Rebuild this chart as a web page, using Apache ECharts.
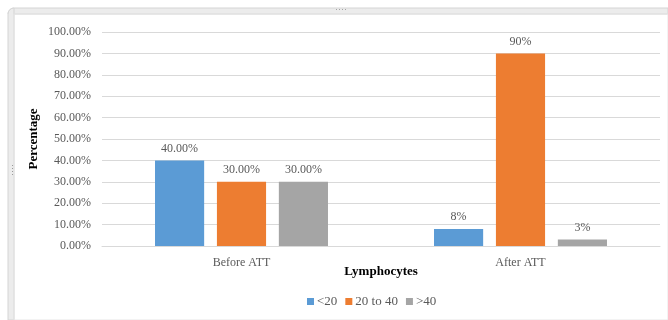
<!DOCTYPE html>
<html>
<head>
<meta charset="utf-8">
<script src="https://cdn.jsdelivr.net/npm/echarts@6/dist/echarts.min.js"></script>
<style>
  html, body { margin: 0; padding: 0; background: #ffffff; }
  #chart { width: 668px; height: 320px; }
</style>
</head>
<body>
<div id="chart"></div>
<script>
// Lymphocyte count groups, before and after ATT
const categories = ['Before ATT', 'After ATT'];
const seriesNames = ['<20', '20 to 40', '>40'];
const lt20 = [40, 8];
const from20to40 = [30, 90];
const gt40 = [30, 3];
const valueLabels = [
  ['40.00%', '8%'],
  ['30.00%', '90%'],
  ['30.00%', '3%']
];
const yTicks = [0, 10, 20, 30, 40, 50, 60, 70, 80, 90, 100];

const colors = ['#5b9bd5', '#ed7d31', '#a5a5a5'];
const font = 'Liberation Serif';
const values = [lt20, from20to40, gt40];

const chart = echarts.init(document.getElementById('chart'), null, { renderer: 'canvas' });

const series = seriesNames.map((name, i) => ({
  name: name,
  type: 'bar',
  data: values[i],
  barGap: '26%',
  barCategoryGap: '38%',
  itemStyle: { color: colors[i] },
  label: {
    show: true,
    position: 'top',
    distance: 6,
    color: '#595959',
    fontFamily: font,
    fontSize: 12,
    formatter: p => valueLabels[i][p.dataIndex]
  }
}));

chart.setOption({
  animation: false,
  color: colors,
  grid: { left: 102, right: 8, top: 32, bottom: 74 },
  legend: {
    data: seriesNames,
    bottom: 7,
    left: 302,
    itemWidth: 7,
    itemHeight: 7,
    itemGap: 8,
    icon: 'rect',
    textStyle: { color: '#595959', fontFamily: font, fontSize: 13, padding: [0, 0, 0, -2] }
  },
  xAxis: {
    type: 'category',
    data: categories,
    name: 'Lymphocytes',
    nameLocation: 'middle',
    nameGap: 19,
    nameMoveOverlap: false,
    nameTextStyle: { color: '#000', fontFamily: font, fontSize: 13, fontWeight: 'bold' },
    axisLine: { lineStyle: { color: '#d9d9d9' } },
    axisTick: { show: false },
    axisLabel: { color: '#595959', fontFamily: font, fontSize: 12, margin: 11 }
  },
  yAxis: {
    type: 'value',
    min: yTicks[0],
    max: yTicks[yTicks.length - 1],
    interval: 10,
    name: 'Percentage',
    nameLocation: 'middle',
    nameGap: 62,
    nameMoveOverlap: false,
    nameTextStyle: { color: '#000', fontFamily: font, fontSize: 13, fontWeight: 'bold' },
    axisLine: { show: false },
    axisTick: { show: false },
    splitLine: { lineStyle: { color: '#d9d9d9' } },
    axisLabel: {
      color: '#595959', fontFamily: font, fontSize: 12, margin: 11,
      formatter: v => v.toFixed(2) + '%'
    }
  },
  graphic: [
    // window frame: top bar and left bar
    { type: 'rect', shape: { x: 8, y: 8, width: 660, height: 6, r: [6, 0, 0, 0] },
      style: { fill: '#ececec', stroke: '#d4d4d4', lineWidth: 1 } },
    { type: 'rect', shape: { x: 8, y: 8, width: 6, height: 312, r: [6, 0, 0, 0] },
      style: { fill: '#ececec', stroke: '#d4d4d4', lineWidth: 1 } },
    { type: 'rect', shape: { x: 14, y: 14, width: 654, height: 306 },
      style: { fill: 'none', stroke: '#e6e6e6', lineWidth: 1 } },
    // resize grips
    { type: 'text', left: 335, top: 5, style: { text: '····', fill: '#999', font: '9px sans-serif' } },
    { type: 'text', left: 8, top: 164, rotation: Math.PI / 2,
      style: { text: '····', fill: '#999', font: '9px sans-serif' } }
  ],
  series: series
});
</script>
</body>
</html>
